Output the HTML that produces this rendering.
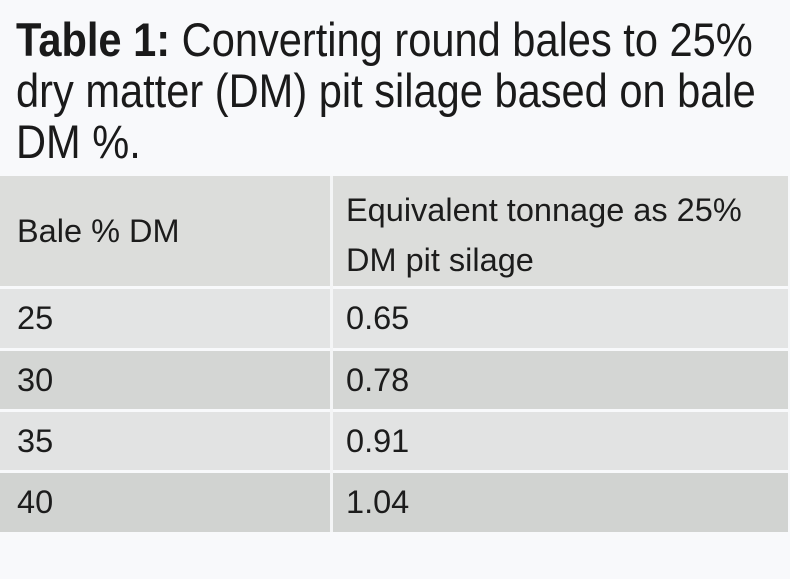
<!DOCTYPE html>
<html><head><style>
body{margin:0;width:790px;height:579px;background:#f8f9fb;overflow:hidden;font-family:"Liberation Sans",sans-serif;color:#1c1c1c;position:relative}
.t{position:absolute;left:16px;top:14px;font-size:47px;line-height:51px;white-space:nowrap;color:#1a1a1a;transform:scaleX(0.885);transform-origin:0 0}
.t b{font-weight:bold}
.r{position:absolute;left:0;width:788px}
.c{position:absolute;top:0;bottom:0;font-size:32.5px;display:flex;align-items:center;white-space:nowrap}
.c1{left:17px}.c2{left:346px}
.div{position:absolute;left:330px;top:176px;width:3px;height:356px;background:#f4f5f6}
</style></head><body>
<div class="t"><b>Table 1:</b> Converting round bales to 25%<br>dry matter (DM) pit silage based on bale<br>DM %.</div>
<div class="r" style="top:176px;height:110px;background:#dcdddb"><div class="c c1">Bale % DM</div><div class="c c2" style="line-height:50px;padding-top:8px">Equivalent tonnage as 25%<br>DM pit silage</div></div>
<div class="r" style="top:289px;height:59px;background:#e3e4e4"><div class="c c1">25</div><div class="c c2">0.65</div></div>
<div class="r" style="top:351px;height:58px;background:#d4d6d4"><div class="c c1">30</div><div class="c c2">0.78</div></div>
<div class="r" style="top:412px;height:58px;background:#e2e3e3"><div class="c c1">35</div><div class="c c2">0.91</div></div>
<div class="r" style="top:473px;height:59px;background:#d1d3d1"><div class="c c1">40</div><div class="c c2">1.04</div></div>
<div class="div"></div>
</body></html>
